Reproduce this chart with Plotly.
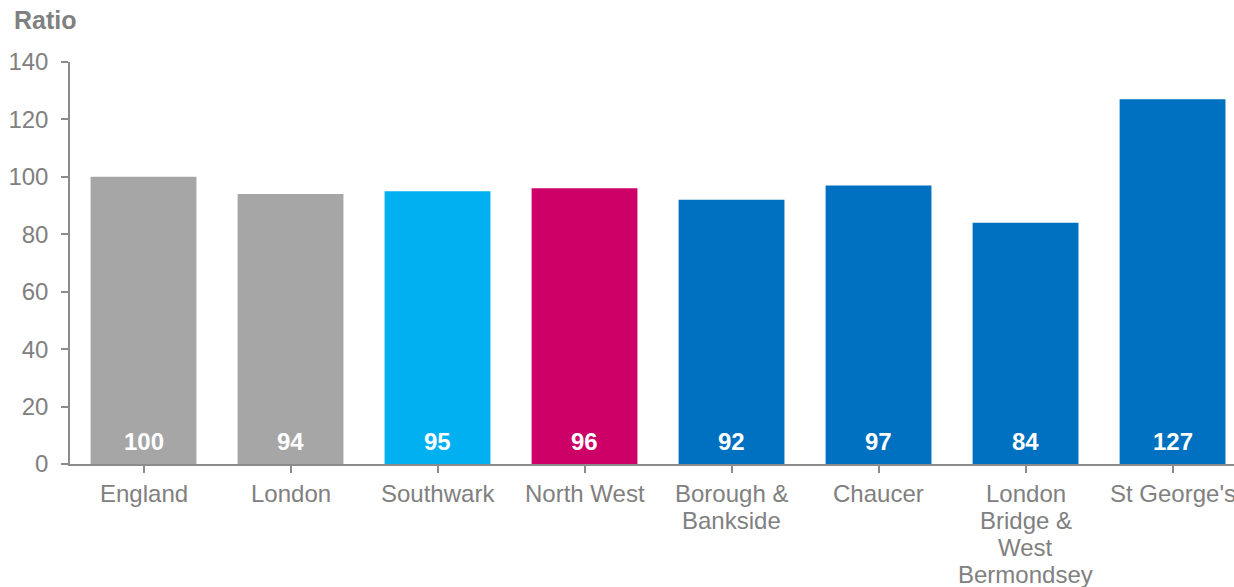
import plotly.graph_objects as go

# Ratio by area
categories = ["England", "London", "Southwark", "North West", "Borough &\nBankside",
              "Chaucer", "London\nBridge &\nWest\nBermondsey", "St George's"]
values = [100, 94, 95, 96, 92, 97, 84, 127]
bar_colors = ["#a6a6a6", "#a6a6a6", "#00b0f0", "#cc0066", "#0070c0", "#0070c0", "#0070c0", "#0070c0"]
y_ticks = [0, 20, 40, 60, 80, 100, 120, 140]

FONT = "Arial"
GREY = "#808080"
AXIS = "#8c8c8c"

# plot area geometry (pixels)
W, H = 1234, 587
L, T, B = 70, 62, 123
PLOT_H = H - T - B
PLOT_W = W - L
LINE_GAP = 27.3  # spacing between wrapped category label lines

fig = go.Figure()
fig.add_trace(go.Bar(
    x=list(range(len(categories))),
    y=values,
    marker=dict(color=bar_colors, line=dict(width=0)),
    width=0.72,
    hoverinfo="skip",
))

# value labels near the base of each bar
for i, v in enumerate(values):
    fig.add_annotation(x=i, y=8, text=f"<b>{v}</b>", showarrow=False,
                       font=dict(family=FONT, size=24, color="white"),
                       xref="x", yref="y")

# category labels, one line at a time for tighter line spacing
for i, cat in enumerate(categories):
    for j, line in enumerate(cat.split("\n")):
        px_below = 29 + j * LINE_GAP
        fig.add_annotation(x=i, y=-px_below / PLOT_H, xref="x", yref="paper",
                           text=line, showarrow=False, yanchor="middle",
                           xanchor="center",
                           font=dict(family=FONT, size=24, color=GREY))

# axis title
fig.add_annotation(x=-(L - 12) / PLOT_W, y=1 + (T - 20) / PLOT_H,
                   xref="paper", yref="paper", text="<b>Ratio</b>",
                   showarrow=False, xanchor="left", yanchor="middle",
                   font=dict(family=FONT, size=25, color=GREY))

fig.update_layout(
    width=W, height=H,
    margin=dict(l=L, r=0, t=T, b=B),
    plot_bgcolor="white", paper_bgcolor="white",
    showlegend=False,
    font=dict(family=FONT, size=24, color=GREY),
)

fig.update_xaxes(
    range=[-0.5, 7.418],
    tickmode="array",
    tickvals=list(range(len(categories))),
    ticktext=[""] * len(categories),
    tickson="boundaries",
    showline=True, linecolor=AXIS, linewidth=1.5,
    ticks="outside", ticklen=7, tickcolor=AXIS, tickwidth=1.5,
    showgrid=False, zeroline=False,
)
fig.update_yaxes(
    range=[0, 140],
    tickvals=y_ticks,
    showline=True, linecolor=AXIS, linewidth=1.5,
    ticks="outside", ticklen=7, tickcolor=AXIS, tickwidth=1.5,
    showgrid=False, zeroline=False,
    tickfont=dict(family=FONT, size=24, color=GREY),
    ticklabelstandoff=8,
)

fig.write_html("out.html")
